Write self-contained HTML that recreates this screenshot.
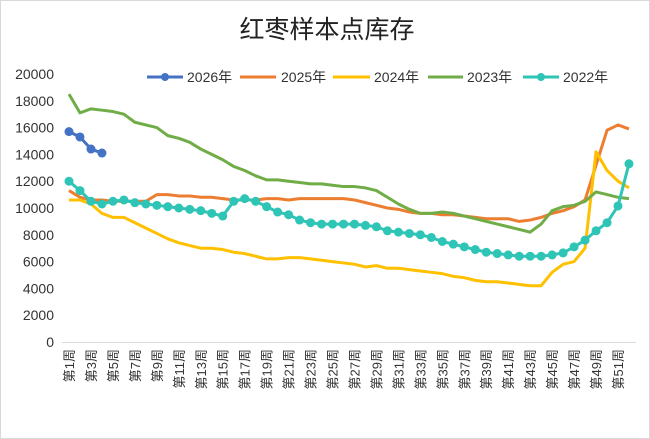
<!DOCTYPE html>
<html><head><meta charset="utf-8"><style>
body{margin:0;background:#fff}
svg{display:block;font-family:"Liberation Sans","Noto Sans CJK SC",sans-serif}
</style></head><body>
<svg id="c" width="650" height="439" viewBox="0 0 650 439">
<rect x="0.5" y="0.5" width="649" height="438" fill="#fff" stroke="#d9d9d9"/>
<text x="327" y="38" font-size="25" text-anchor="middle" fill="#222" font-family="'Noto Sans CJK SC',sans-serif">红枣样本点库存</text>
<line x1="62" y1="342.5" x2="636" y2="342.5" stroke="#d9d9d9"/>
<g id="yl" font-size="14" fill="#333" text-anchor="end"></g>
<g id="xl" font-size="13" fill="#333"></g>
<g id="series"></g>
<g font-size="14" fill="#333">
<line x1="147" y1="77" x2="183" y2="77" stroke="#4472c4" stroke-width="3"/><circle cx="165" cy="77" r="4" fill="#4472c4"/><text x="187" y="82">2026年</text>
<line x1="240" y1="77" x2="276" y2="77" stroke="#ed7d31" stroke-width="3"/><text x="281" y="82">2025年</text>
<line x1="333" y1="77" x2="370" y2="77" stroke="#ffc000" stroke-width="3"/><text x="374" y="82">2024年</text>
<line x1="428" y1="77" x2="463" y2="77" stroke="#70ad47" stroke-width="3"/><text x="467" y="82">2023年</text>
<line x1="523" y1="77" x2="559" y2="77" stroke="#2ec4b6" stroke-width="3"/><circle cx="541" cy="77" r="4" fill="#2ec4b6"/><text x="563" y="82">2022年</text>
</g>
</svg>
<script>
const NS="http://www.w3.org/2000/svg";
const X=w=>69+(w-1)*10.98, Y=v=>342-v/10000*134;
function el(t,a,p,txt){const e=document.createElementNS(NS,t);for(const k in a)e.setAttribute(k,a[k]);if(txt!==undefined)e.textContent=txt;p.appendChild(e);return e;}
const yl=document.getElementById('yl');
for(let v=0;v<=20000;v+=2000)el('text',{x:54,y:Y(v)+5},yl,String(v));
const xl=document.getElementById('xl');
for(let w=1;w<=51;w+=2){el('text',{x:0,y:0,transform:`translate(${X(w)+5},349) rotate(-90)`,'text-anchor':'end'},xl,'第'+w+'周');}
const S=document.getElementById('series');
const d={
y2025:[11300,10800,10600,10600,10500,10500,10500,10500,11000,11000,10900,10900,10800,10800,10700,10600,10600,10600,10700,10700,10600,10700,10700,10700,10700,10700,10600,10400,10200,10000,9900,9700,9600,9600,9500,9500,9400,9300,9200,9200,9200,9000,9100,9300,9600,9800,10100,10600,13200,15800,16200,15900],
y2024:[10600,10600,10300,9600,9300,9300,8900,8500,8100,7700,7400,7200,7000,7000,6900,6700,6600,6400,6200,6200,6300,6300,6200,6100,6000,5900,5800,5600,5700,5500,5500,5400,5300,5200,5100,4900,4800,4600,4500,4500,4400,4300,4200,4200,5200,5800,6000,7000,14200,12800,12000,11500],
y2023:[18500,17100,17400,17300,17200,17000,16400,16200,16000,15400,15200,14900,14400,14000,13600,13100,12800,12400,12100,12100,12000,11900,11800,11800,11700,11600,11600,11500,11300,10800,10300,9900,9600,9600,9700,9600,9400,9200,9000,8800,8600,8400,8200,8800,9800,10100,10200,10500,11200,11000,10800,10700],
y2022:[12000,11300,10500,10300,10500,10600,10400,10300,10200,10100,10000,9900,9800,9600,9400,10500,10700,10500,10100,9700,9500,9100,8900,8800,8800,8800,8800,8700,8600,8300,8200,8100,8000,7800,7500,7300,7100,6900,6700,6600,6500,6400,6400,6400,6500,6650,7100,7600,8300,8900,10150,13300],
y2026:[15700,15300,14400,14100]};
function line(arr,col,mk){
 const pts=arr.map((v,i)=>[X(i+1),Y(v)]);
 el('polyline',{points:pts.map(p=>p.join(',')).join(' '),fill:'none',stroke:col,'stroke-width':3,'stroke-linejoin':'round'},S);
 if(mk)pts.forEach(p=>el('circle',{cx:p[0],cy:p[1],r:4.5,fill:col},S));
}
line(d.y2025,'#ed7d31',0);
line(d.y2024,'#ffc000',0);
line(d.y2023,'#70ad47',0);
line(d.y2022,'#2ec4b6',1);
line(d.y2026,'#4472c4',1);
</script>
</body></html>
